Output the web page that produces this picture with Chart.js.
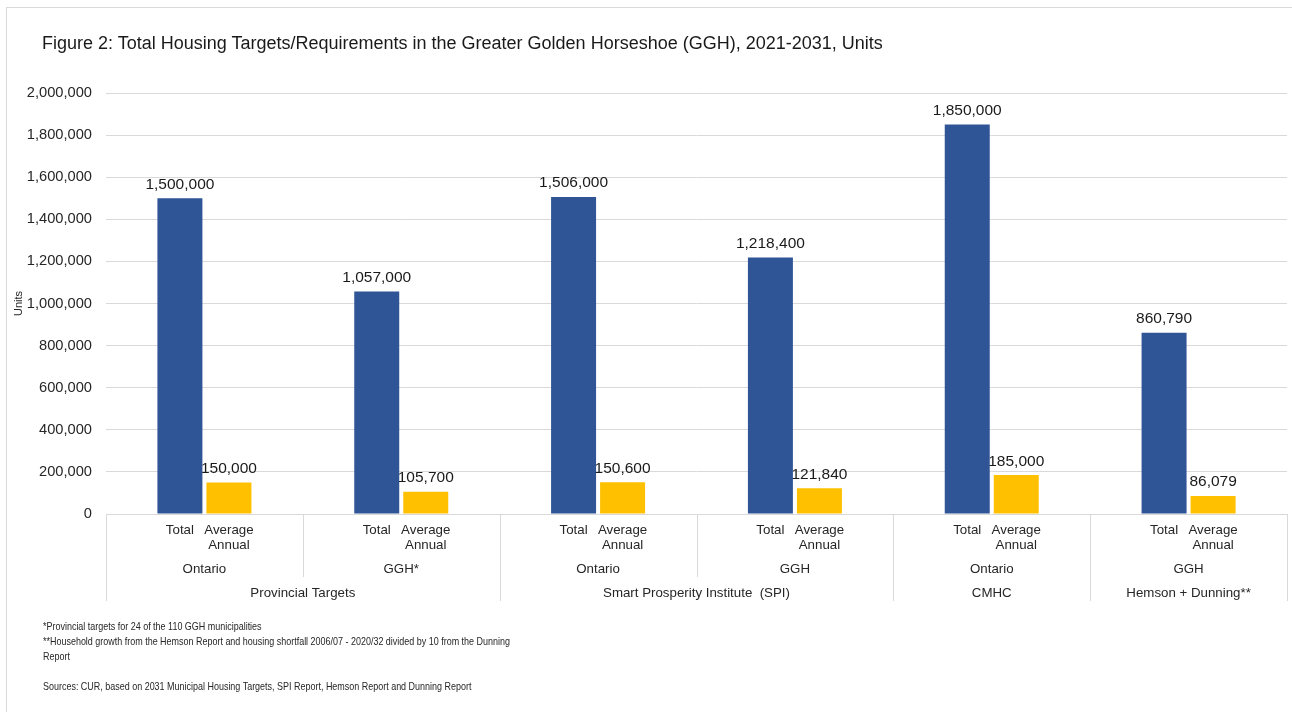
<!DOCTYPE html>
<html><head><meta charset="utf-8">
<script src="https://cdn.jsdelivr.net/npm/chart.js@4/dist/chart.umd.min.js"></script>
<style>
html,body{margin:0;padding:0;background:#fff;}
#wrap{position:relative;width:1292px;height:721px;overflow:hidden;font-family:'Liberation Sans',Arial,sans-serif;}
#frame{position:absolute;left:6px;top:7px;width:1300px;height:704px;border-left:1px solid #d9d9d9;border-top:1px solid #d9d9d9;}
#title{position:absolute;left:42px;top:33px;font-size:18px;line-height:20px;color:#1a1a1a;white-space:nowrap;}
#notes{position:absolute;left:43px;top:619px;font-size:11px;line-height:15px;color:#262626;transform:scaleX(0.815);transform-origin:0 0;white-space:nowrap;}
canvas{position:absolute;left:0;top:0;}
</style></head>
<body>
<div id="wrap">
  <div id="frame"></div>
  <canvas id="c" width="1292" height="721"></canvas>
  <div id="title">Figure 2: Total Housing Targets/Requirements in the Greater Golden Horseshoe (GGH), 2021-2031, Units</div>
  <div id="notes">*Provincial targets for 24 of the 110 GGH municipalities<br>**Household growth from the Hemson Report and housing shortfall 2006/07 - 2020/32 divided by 10 from the Dunning<br>Report<br><br>Sources: CUR, based on 2031 Municipal Housing Targets, SPI Report, Hemson Report and Dunning Report</div>
</div>
<script>
// ---- data ----
const sources = ['Provincial Targets','Provincial Targets','Smart Prosperity Institute  (SPI)','Smart Prosperity Institute  (SPI)','CMHC','Hemson + Dunning**'];
const regions = ['Ontario','GGH*','Ontario','GGH','Ontario','GGH'];
const seriesNames = ['Total','Average Annual'];
const totalUnits = [1500000,1057000,1506000,1218400,1850000,860790];
const averageAnnualUnits = [150000,105700,150600,121840,185000,86079];
const yTickValues = [0,200000,400000,600000,800000,1000000,1200000,1400000,1600000,1800000,2000000];
const yAxisTitle = 'Units';

const FONT = '"Liberation Sans", Arial, sans-serif';
const fmt = v => v.toLocaleString('en-US');

const multiLevel = {
  id: 'multiLevel',
  afterDatasetsDraw(chart) {
    const ctx = chart.ctx, xs = chart.scales.x, area = chart.chartArea;
    const metas = [chart.getDatasetMeta(0), chart.getDatasetMeta(1)];
    const n = regions.length;
    const catW = (area.right - area.left) / n;
    const b = area.bottom;
    ctx.save();
    // value labels
    ctx.font = '15.5px ' + FONT;
    ctx.fillStyle = '#1a1a1a';
    ctx.textAlign = 'center';
    ctx.textBaseline = 'alphabetic';
    metas.forEach((m, di) => {
      m.data.forEach((bar, i) => {
        ctx.fillText(fmt(chart.data.datasets[di].data[i]), bar.x, bar.y - 9.5);
      });
    });
    // category labels
    ctx.font = '13.3px ' + FONT;
    ctx.fillStyle = '#262626';
    ctx.textBaseline = 'middle';
    for (let i = 0; i < n; i++) {
      metas.forEach((m, di) => {
        const words = seriesNames[di].split(' ');
        words.forEach((w, k) => ctx.fillText(w, m.data[i].x, b + 16.5 + k * 14.5));
      });
      ctx.fillText(regions[i], xs.getPixelForValue(i), b + 55);
    }
    // group labels
    let start = 0;
    for (let i = 1; i <= n; i++) {
      if (i === n || sources[i] !== sources[start]) {
        const l = area.left + start * catW, r = area.left + i * catW;
        ctx.fillText(sources[start], (l + r) / 2, b + 79);
        start = i;
      }
    }
    // divider lines
    ctx.strokeStyle = '#d9d9d9';
    ctx.lineWidth = 1;
    for (let k = 0; k <= n; k++) {
      const x = Math.round(area.left + k * catW) + 0.5;
      const full = k === 0 || k === n || sources[k] !== sources[k - 1];
      ctx.beginPath();
      ctx.moveTo(x, b);
      ctx.lineTo(x, b + (full ? 87 : 63));
      ctx.stroke();
    }
    ctx.restore();
  }
};

new Chart(document.getElementById('c'), {
  type: 'bar',
  data: {
    labels: regions,
    datasets: [
      { label: seriesNames[0], data: totalUnits, backgroundColor: '#2F5597', categoryPercentage: 0.498, barPercentage: 0.918 },
      { label: seriesNames[1], data: averageAnnualUnits, backgroundColor: '#FFC000', categoryPercentage: 0.498, barPercentage: 0.918 }
    ]
  },
  options: {
    responsive: false,
    devicePixelRatio: 1,
    animation: false,
    layout: { padding: { top: 93, right: 5, bottom: 0, left: 0 } },
    plugins: { legend: { display: false }, tooltip: { enabled: false }, title: { display: false } },
    scales: {
      x: {
        grid: { display: false },
        border: { display: false },
        ticks: { display: false },
        afterFit(s) { s.height = 207; }
      },
      y: {
        min: 0, max: 2000000,
        afterBuildTicks(s) { s.ticks = yTickValues.map(v => ({ value: v })); },
        grid: { color: '#d9d9d9', drawTicks: false, lineWidth: 1 },
        border: { display: false },
        ticks: { padding: 14, color: '#262626', font: { family: FONT, size: 14.67 }, callback: v => fmt(v) },
        title: { display: true, text: yAxisTitle, color: '#262626', font: { family: FONT, size: 11 }, padding: { top: 12, bottom: 0 } },
        afterFit(s) { s.width = 106; }
      }
    }
  },
  plugins: [multiLevel]
});
</script>
</body></html>
